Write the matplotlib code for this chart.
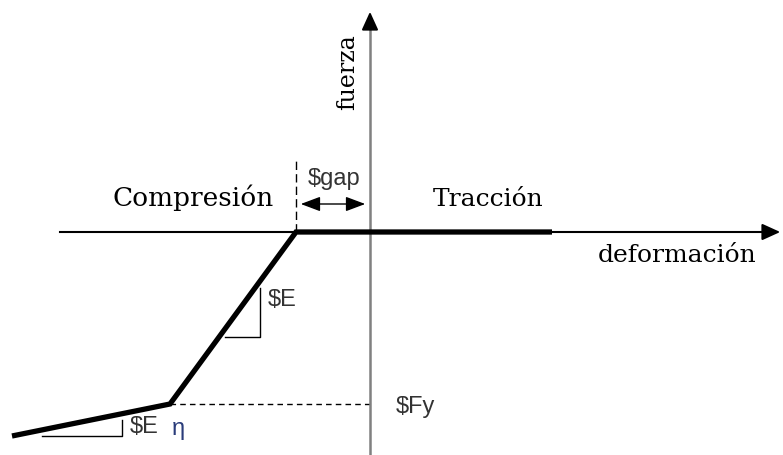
"""
Esquema fuerza-deformacion de un elemento con gap (compresion / traccion)
"""
# IMPORTS
import matplotlib
matplotlib.use("Agg")
import matplotlib.pyplot as plt


# VARIABLES
# Curva fuerza-deformacion (unidades arbitrarias del esquema)
strain = [-358, -200, -74, 182]
force = [-204, -172, 0, 0]

gap = -74          # deformacion a la que se cierra el gap
fy = -172          # fuerza de fluencia

side_labels = ["Compresión", "Tracción"]
axis_labels = ["deformación", "fuerza"]
param_labels = ["\\$gap", "\\$E", "\\$Fy", "\\$E"]

serif = "DejaVu Serif"
sans = "Liberation Sans"


# EXECUTION
fig = plt.figure(figsize=(7.83, 4.55), dpi=100)
ax = fig.add_axes([0, 0, 1, 1])
ax.set_xlim(-370, 413)
ax.set_ylim(-223, 232)
ax.set_axis_off()

# Ejes
ax.plot([-310, 398], [0, 0], color="black", lw=1.5, zorder=2)
ax.plot([0, 0], [-223, 205], color="#808080", lw=1.8, zorder=2)
ax.annotate("", xy=(413, 0), xytext=(393, 0),
            arrowprops=dict(arrowstyle="-|>,head_length=1.1,head_width=0.5",
                            color="black", lw=1.5))
ax.annotate("", xy=(0, 223), xytext=(0, 200),
            arrowprops=dict(arrowstyle="-|>,head_length=1.1,head_width=0.5",
                            color="black", lw=1.5))

# Curva
ax.plot(strain, force, color="black", lw=3.8, solid_capstyle="butt",
        solid_joinstyle="miter", zorder=3)

# Lineas auxiliares
ax.plot([strain[1], 0], [fy, fy], color="black", lw=1.0, ls=(0, (4, 3)), zorder=1)
ax.plot([gap, gap], [0, 72], color="black", lw=1.0, ls=(0, (6, 3)), zorder=1)
ax.annotate("", xy=(gap + 2, 28), xytext=(-2, 28),
            arrowprops=dict(arrowstyle="<|-|>,head_length=1.2,head_width=0.45",
                            color="black", lw=1.0))

# Triangulos de pendiente
ax.plot([-145, -110, -110], [-105, -105, -56], color="black", lw=1.0, zorder=2)
ax.plot([-328, -248, -248], [-204, -204, -188], color="black", lw=1.0, zorder=2)

# Textos
ax.text(-177, 34, side_labels[0], family=serif, fontsize=19, ha="center", va="center")
ax.text(118, 32, side_labels[1], family=serif, fontsize=18, ha="center", va="center")
ax.text(307, -24, axis_labels[0], family=serif, fontsize=18, ha="center", va="center")
ax.text(-22, 160, axis_labels[1], family=serif, fontsize=17, ha="center", va="center",
        rotation=90)
ax.text(-36, 53, param_labels[0], family=sans, fontsize=17, ha="center", va="center",
        color="#333333")
ax.text(-102, -68, param_labels[1], family=sans, fontsize=17, ha="left", va="center",
        color="#333333")
ax.text(26, -175, param_labels[2], family=sans, fontsize=17, ha="left", va="center",
        color="#333333")
ax.text(-240, -195, param_labels[3], family=sans, fontsize=17, ha="left", va="center",
        color="#333333")
ax.text(-198, -197, "η", family=sans, fontsize=17, ha="left", va="center",
        color="#2a3c7a")


# OUTPUT
fig.savefig("out.png", dpi=100)
